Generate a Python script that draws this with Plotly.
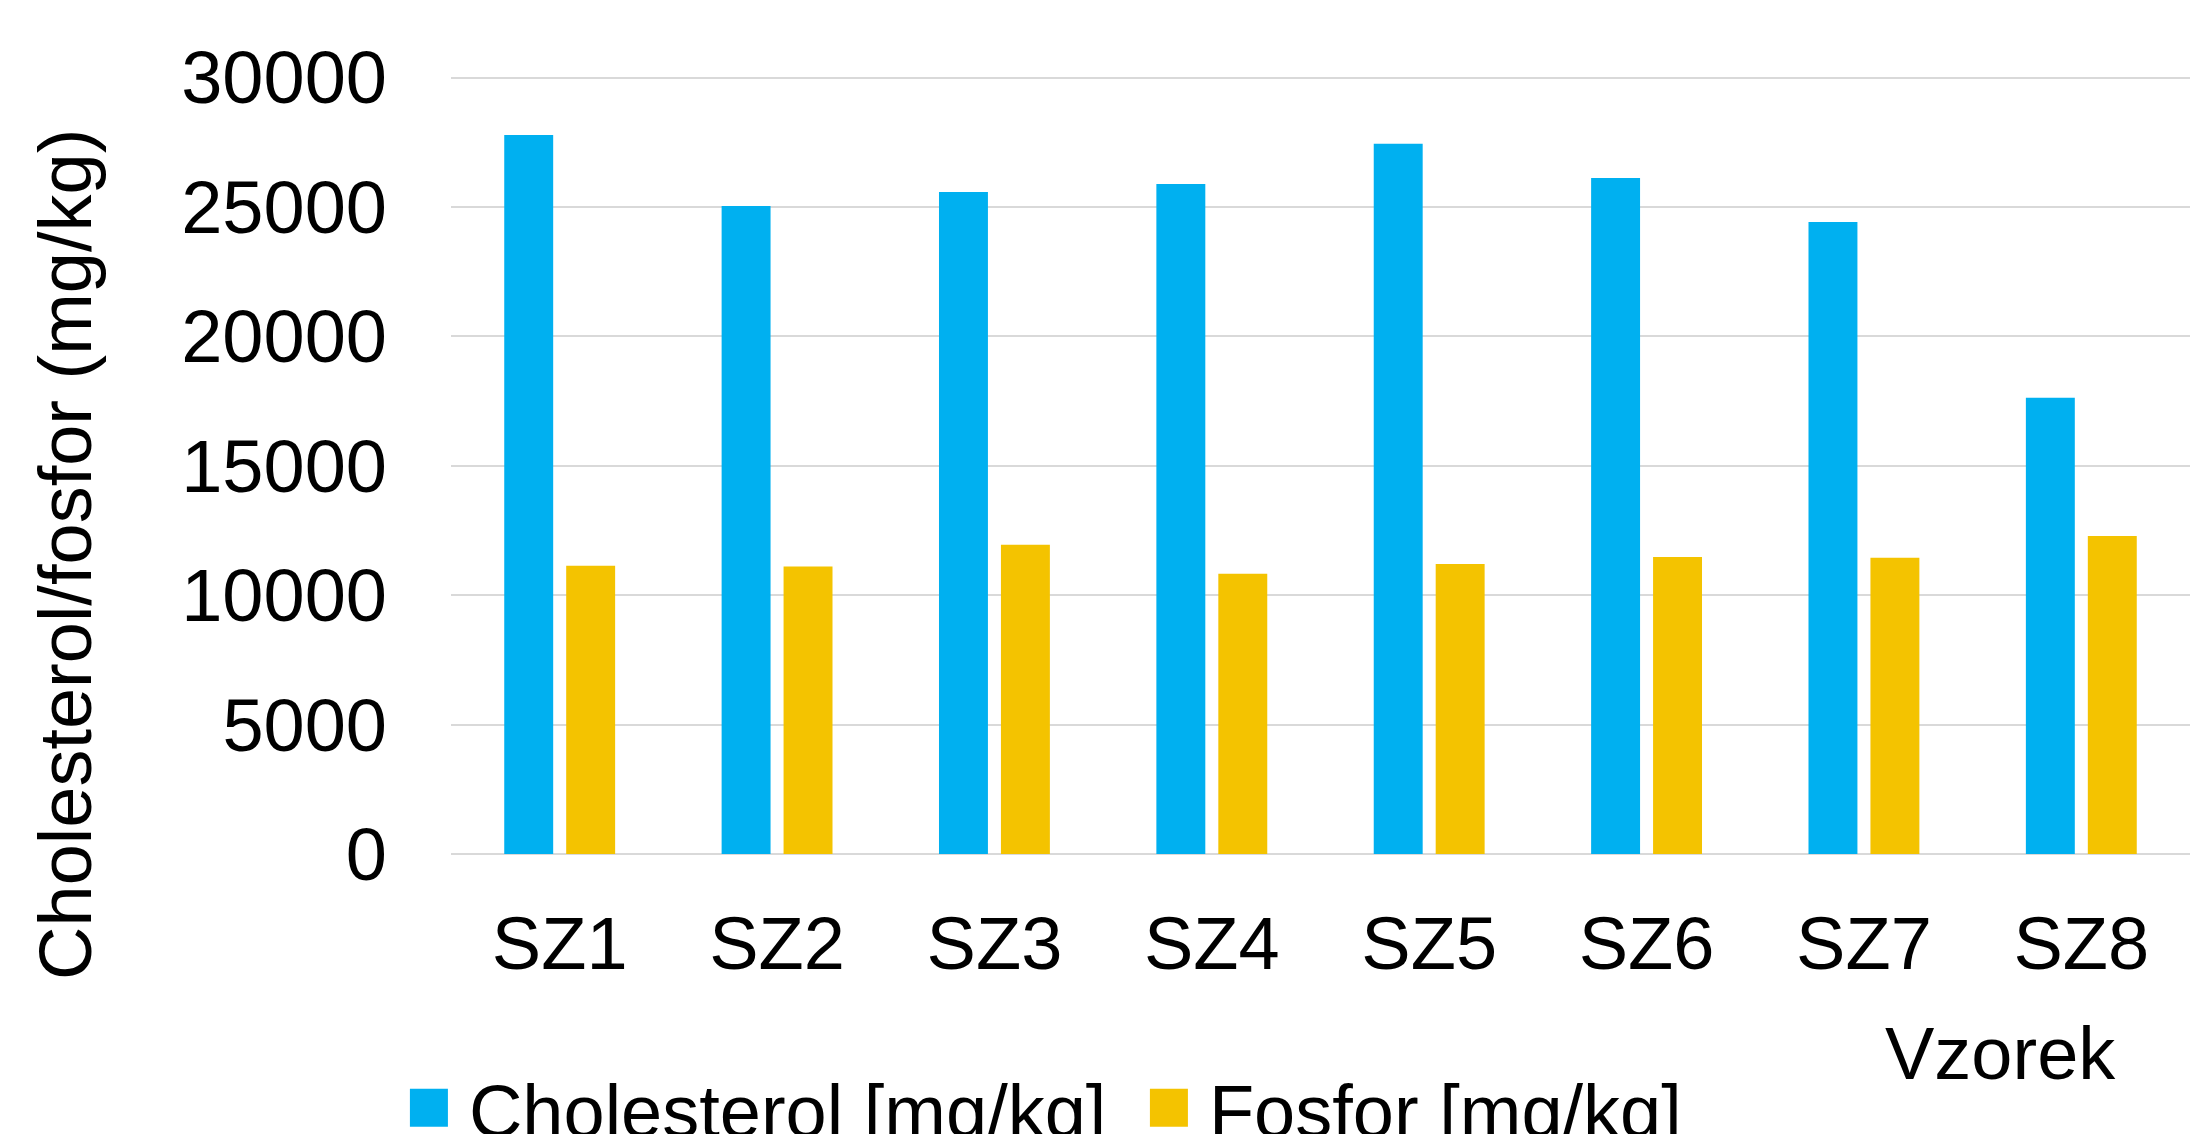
import plotly.graph_objects as go

categories = ["SZ1", "SZ2", "SZ3", "SZ4", "SZ5", "SZ6", "SZ7", "SZ8"]
cholesterol = [27780, 25040, 25580, 25890, 27440, 26120, 24420, 17630]
fosfor = [11140, 11110, 11950, 10830, 11210, 11480, 11450, 12290]
y_ticks = [0, 5000, 10000, 15000, 20000, 25000, 30000]

series_names = ["Cholesterol [mg/kg]", "Fosfor [mg/kg]"]
y_title = "Cholesterol/fosfor (mg/kg)"
x_title = "Vzorek"

FONT = "Liberation Sans, Arial, sans-serif"
BLUE = "#00B0F0"
GOLD = "#F4C300"
GRID = "#d9d9d9"

fig = go.Figure()
fig.add_trace(go.Bar(x=categories, y=cholesterol, name=series_names[0],
                     marker=dict(color=BLUE, line=dict(width=0))))
fig.add_trace(go.Bar(x=categories, y=fosfor, name=series_names[1],
                     marker=dict(color=GOLD, line=dict(width=0))))

fig.update_layout(
    template="none",
    width=2190, height=1134,
    margin=dict(l=451, r=0, t=75, b=280, autoexpand=False),
    paper_bgcolor="white", plot_bgcolor="white",
    font=dict(family=FONT, size=74, color="black"),
    barmode="group", bargap=0.43, bargroupgap=0.21,
    showlegend=True,
    legend=dict(orientation="h", x=-0.0357, xanchor="left", y=-0.2555, yanchor="top",
                font=dict(family=FONT, size=74, color="black"),
                itemwidth=70, entrywidth=655, entrywidthmode="pixels",
                bgcolor="rgba(0,0,0,0)", borderwidth=0, traceorder="normal"),
    xaxis=dict(type="category", showgrid=False, zeroline=False, showline=False,
               ticks="", tickfont=dict(family=FONT, size=74, color="black"),
               ticklabelstandoff=40, automargin=False),
    yaxis=dict(range=[0, 30100], tickvals=y_ticks, ticktext=[str(v) for v in y_ticks],
               showgrid=True, gridcolor=GRID, gridwidth=2,
               zeroline=True, zerolinecolor=GRID, zerolinewidth=2,
               showline=False, ticks="",
               tickfont=dict(family=FONT, size=74, color="black"),
               ticklabelstandoff=63, automargin=False),
    annotations=[
        dict(text=y_title, textangle=-90, xref="paper", yref="paper",
             x=-0.222, y=0.3851, xanchor="center", yanchor="middle", showarrow=False,
             font=dict(family=FONT, size=74, color="black")),
        dict(text=x_title, xref="paper", yref="paper",
             x=0.8913, y=-0.2555, xanchor="center", yanchor="middle", showarrow=False,
             font=dict(family=FONT, size=74, color="black")),
    ],
    hovermode=False,
)

post = """
document.body.style.margin = '0';
var gd = document.getElementById('{plot_id}');
function bigSwatch(){
  gd.querySelectorAll('.legend .legendpoints path').forEach(function(p){
    p.setAttribute('d','M19,19H-19V-19H19Z');
  });
}
bigSwatch();
gd.on('plotly_afterplot', bigSwatch);
"""

fig.write_html("out.html", post_script=post, config={"displayModeBar": False})
